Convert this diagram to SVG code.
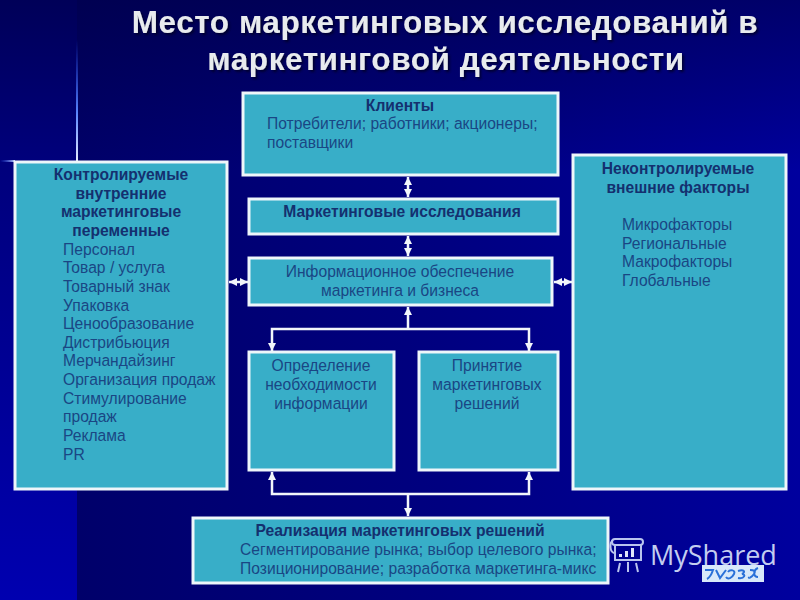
<svg xmlns="http://www.w3.org/2000/svg" width="800" height="600" viewBox="0 0 800 600">
<style>
.box{fill:#38aec8;stroke:#eef6fa;stroke-width:3}
text{font-family:"Liberation Sans",Arial,sans-serif;font-size:15.65px;fill:#1a4684}
.b{font-weight:bold;fill:#14306f}
.m{text-anchor:middle}
.t{font-size:31.5px;font-weight:bold;fill:#e8ebee;text-anchor:middle;letter-spacing:.55px;filter:url(#sh)}
.c{fill:none;stroke:#f2f6fa;stroke-width:2.5}
.logo{fill:none;stroke:#b9c4ee;stroke-width:2}
</style>
<defs>
<linearGradient id="bgh" x1="0" y1="0" x2="1" y2="0"><stop offset="0" stop-color="#00006a"/><stop offset=".5" stop-color="#000080"/><stop offset="1" stop-color="#00009e"/></linearGradient>
<linearGradient id="bgt" x1="0" y1="0" x2="0" y2="1"><stop offset="0" stop-color="#000038" stop-opacity=".5"/><stop offset="1" stop-color="#000038" stop-opacity="0"/></linearGradient>
<linearGradient id="bgl" x1="0" y1="0" x2="0" y2="1"><stop offset="0" stop-color="#000058"/><stop offset=".27" stop-color="#00007c"/><stop offset="1" stop-color="#0000b0"/></linearGradient>
<linearGradient id="gl" x1="0" y1="0" x2="0" y2="1"><stop offset="0" stop-color="#2a5cff" stop-opacity="0"/><stop offset=".6" stop-color="#5a86ff"/><stop offset="1" stop-color="#e8eeff"/></linearGradient>
<linearGradient id="glh" x1="0" y1="0" x2="1" y2="0"><stop offset="0" stop-color="#2a5cff" stop-opacity="0"/><stop offset="1" stop-color="#c0d0ff"/></linearGradient>
<filter id="sh" x="-5%" y="-20%" width="110%" height="150%"><feDropShadow dx="2" dy="2" stdDeviation="1" flood-color="#000028" flood-opacity=".8"/></filter>
<marker id="a" viewBox="0 0 10 10" refX="10" refY="5" markerUnits="userSpaceOnUse" markerWidth="8" markerHeight="8" orient="auto-start-reverse"><path d="M0 0L10 5L0 10Z" fill="#f2f6fa"/></marker>
</defs>
<g id="background">
<rect x="77" y="0" width="723" height="600" fill="url(#bgh)"/>
<rect x="77" y="0" width="723" height="170" fill="url(#bgt)"/>
<rect x="0" y="0" width="77" height="600" fill="url(#bgl)"/>
<rect x="76" y="40" width="2" height="122" fill="url(#gl)"/>
<rect x="0" y="160" width="15" height="2" fill="url(#glh)"/>
</g>
<g id="title">
<text class="t" x="445" y="33">Место маркетинговых исследований в</text>
<text class="t" x="446" y="69.5">маркетинговой деятельности</text>
</g>
<g id="connectors">
<path class="c" marker-start="url(#a)" marker-end="url(#a)" d="M408 177V197"/>
<path class="c" marker-start="url(#a)" marker-end="url(#a)" d="M408 236V256"/>
<path class="c" marker-start="url(#a)" marker-end="url(#a)" d="M229 282H248"/>
<path class="c" marker-start="url(#a)" marker-end="url(#a)" d="M554 282H572"/>
<path class="c" marker-end="url(#a)" d="M408 328V307"/>
<path class="c" marker-start="url(#a)" marker-end="url(#a)" d="M272 351V329H529V351"/>
<path class="c" marker-start="url(#a)" marker-end="url(#a)" d="M272 472V494H529V472"/>
<path class="c" marker-end="url(#a)" d="M408 495V516"/>
</g>
<g id="clients">
<rect class="box" x="243" y="93" width="315" height="82"/>
<text class="b m" x="400" y="111">Клиенты</text>
<text x="267" y="129">Потребители; работники; акционеры;</text>
<text x="267" y="148">поставщики</text>
</g>
<g id="research">
<rect class="box" x="249" y="199" width="309" height="35"/>
<text class="b m" x="402" y="217">Маркетинговые исследования</text>
</g>
<g id="info">
<rect class="box" x="249" y="258" width="303" height="47"/>
<text class="m" x="400" y="277">Информационное обеспечение</text>
<text class="m" x="400" y="296">маркетинга и бизнеса</text>
</g>
<g id="controllable">
<rect class="box" x="15" y="162" width="212" height="327"/>
<text class="b m" x="121" y="180">Контролируемые</text>
<text class="b m" x="121" y="199">внутренние</text>
<text class="b m" x="121" y="217">маркетинговые</text>
<text class="b m" x="121" y="236">переменные</text>
<text x="63" y="255">Персонал</text>
<text x="63" y="273">Товар / услуга</text>
<text x="63" y="292">Товарный знак</text>
<text x="63" y="311">Упаковка</text>
<text x="63" y="329">Ценообразование</text>
<text x="63" y="348">Дистрибьюция</text>
<text x="63" y="366">Мерчандайзинг</text>
<text x="63" y="385">Организация продаж</text>
<text x="63" y="404">Стимулирование</text>
<text x="63" y="422">продаж</text>
<text x="63" y="441">Реклама</text>
<text x="63" y="460">PR</text>
</g>
<g id="uncontrollable">
<rect class="box" x="573" y="155" width="213" height="334"/>
<text class="b m" x="678" y="174">Неконтролируемые</text>
<text class="b m" x="678" y="193">внешние факторы</text>
<text x="622" y="230">Микрофакторы</text>
<text x="622" y="249">Региональные</text>
<text x="622" y="267">Макрофакторы</text>
<text x="622" y="286">Глобальные</text>
</g>
<g id="need">
<rect class="box" x="249" y="352" width="145" height="118"/>
<text class="m" x="321" y="371">Определение</text>
<text class="m" x="321" y="390">необходимости</text>
<text class="m" x="321" y="409">информации</text>
</g>
<g id="decisions">
<rect class="box" x="419" y="352" width="139" height="118"/>
<text class="m" x="487" y="371">Принятие</text>
<text class="m" x="487" y="390">маркетинговых</text>
<text class="m" x="487" y="409">решений</text>
</g>
<g id="implementation">
<rect class="box" x="193" y="518" width="415" height="65"/>
<text class="b m" x="400" y="536">Реализация маркетинговых решений</text>
<text x="240" y="555">Сегментирование рынка; выбор целевого рынка;</text>
<text x="240" y="574">Позиционирование; разработка маркетинга-микс</text>
</g>
<g id="logo">
<rect class="logo" x="612" y="539" width="31" height="6" rx="3"/>
<path class="logo" d="M613 540C609 543 610 552 614 553M615 545V560H641V545M620 563L618 572M636 563L638 572M628 562V572M618 560H638"/>
<path d="M619 557h3v-3h-3zM625 557h3v-6h-3zM631 557h3v-9h-3z" fill="#dfe5fa"/>
<text x="650" y="565" style="font-family:'Open Sans',sans-serif;font-size:27px;fill:#c3cdf0">MyShared</text>
<rect x="702" y="565" width="62" height="17" fill="#d8e8fa"/>
<path d="M705 570h8c-2 6-4 8-6 9M716 570l4 8 6-8M728 572c2-3 8-2 6 2s-6 6-8 3M738 571c6-2 8 1 4 3 4 0 3 5-4 4M750 570c4 0 6 1 4 4s-6 5-5 3M758 568c-5 2-5 9 0 9" fill="none" stroke="#2a70d8" stroke-width="2"/>
</g>
</svg>
